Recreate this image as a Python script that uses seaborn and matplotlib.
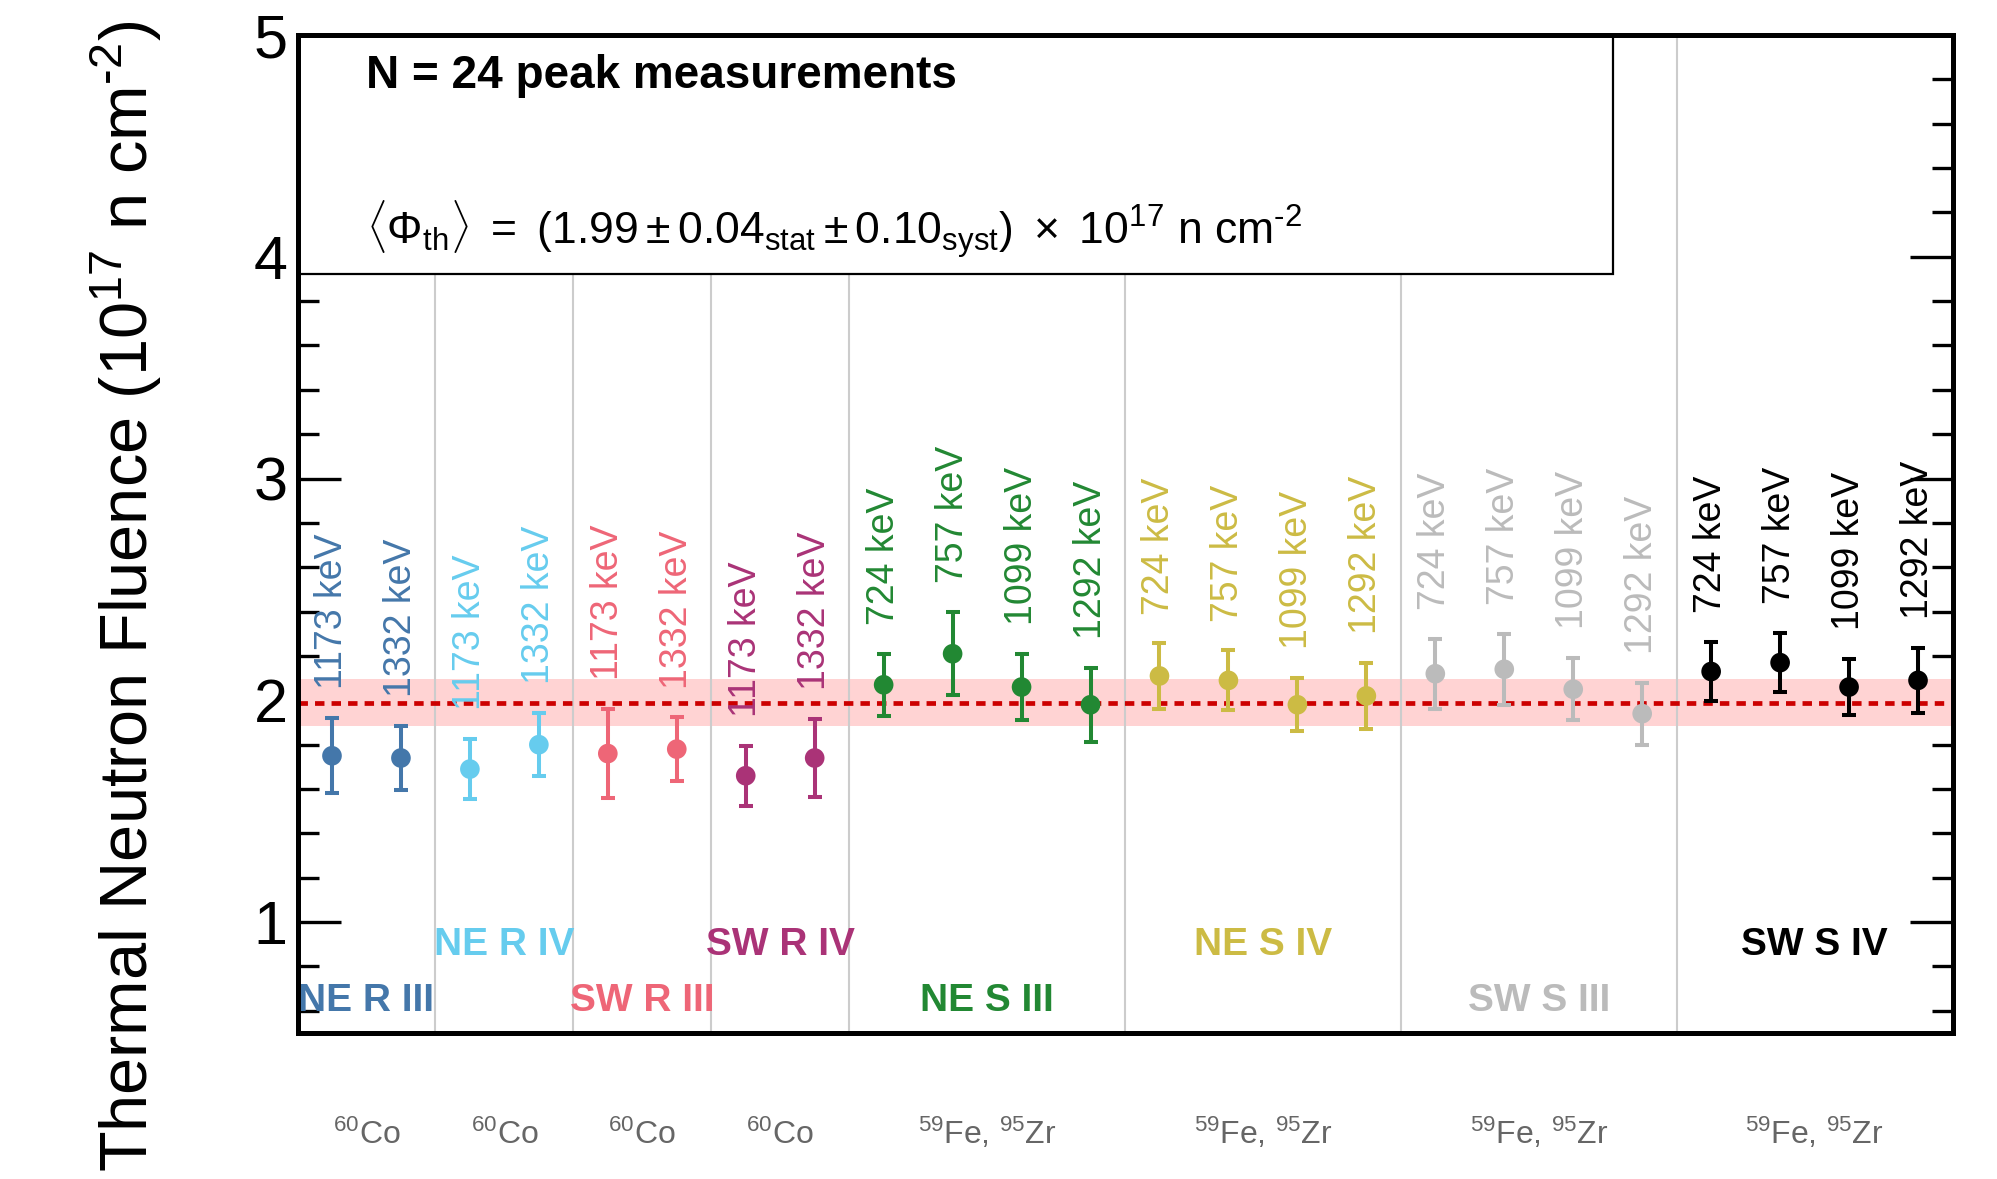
import numpy as np
import pandas as pd
import matplotlib
matplotlib.use("Agg")
import matplotlib.pyplot as plt
from matplotlib.patches import Rectangle
from matplotlib.ticker import MultipleLocator
import seaborn as sns

# ---- data -------------------------------------------------------------
groups = ["NE R III", "NE R IV", "SW R III", "SW R IV",
          "NE S III", "NE S IV", "SW S III", "SW S IV"]
group_colors = ["#4477AA", "#66CCEE", "#EE6677", "#AA3377",
                "#228833", "#CCBB44", "#BBBBBB", "#000000"]
group_isotopes = [r"$^{60}$Co"] * 4 + [r"$^{59}$Fe, $^{95}$Zr"] * 4

co_peaks = ["1173 keV", "1332 keV"]
fe_zr_peaks = ["724 keV", "757 keV", "1099 keV", "1292 keV"]

# fluence (1e17 n/cm2) and uncertainty per gamma peak
ne_r_iii = [1.75, 1.74]
ne_r_iii_err = [0.17, 0.145]
ne_r_iv = [1.69, 1.80]
ne_r_iv_err = [0.137, 0.143]
sw_r_iii = [1.76, 1.78]
sw_r_iii_err = [0.20, 0.143]
sw_r_iv = [1.66, 1.74]
sw_r_iv_err = [0.135, 0.178]
ne_s_iii = [2.07, 2.21, 2.06, 1.98]
ne_s_iii_err = [0.14, 0.187, 0.148, 0.168]
ne_s_iv = [2.11, 2.09, 1.98, 2.02]
ne_s_iv_err = [0.147, 0.135, 0.12, 0.15]
sw_s_iii = [2.12, 2.14, 2.05, 1.94]
sw_s_iii_err = [0.157, 0.16, 0.14, 0.14]
sw_s_iv = [2.13, 2.17, 2.06, 2.09]
sw_s_iv_err = [0.135, 0.133, 0.125, 0.147]

mean_fluence = 1.99
stat_err = 0.04
syst_err = 0.10

group_values = [ne_r_iii, ne_r_iv, sw_r_iii, sw_r_iv,
                ne_s_iii, ne_s_iv, sw_s_iii, sw_s_iv]
group_errors = [ne_r_iii_err, ne_r_iv_err, sw_r_iii_err, sw_r_iv_err,
                ne_s_iii_err, ne_s_iv_err, sw_s_iii_err, sw_s_iv_err]
group_peaks = [co_peaks] * 4 + [fe_zr_peaks] * 4

rows = []
for g, vals, errs, peaks in zip(groups, group_values, group_errors, group_peaks):
    for v, e, p in zip(vals, errs, peaks):
        rows.append({"group": g, "peak": p, "fluence": v, "err": e})
df = pd.DataFrame(rows)
df["pos"] = np.arange(len(df)) + 0.5

# ---- style ------------------------------------------------------------
sns.set_theme(style="white")
plt.rcParams["font.family"] = ["Liberation Sans", "DejaVu Sans"]
plt.rcParams["text.color"] = "black"
plt.rcParams["axes.labelcolor"] = "black"
plt.rcParams["mathtext.fontset"] = "custom"
plt.rcParams["mathtext.rm"] = "Liberation Sans"
plt.rcParams["mathtext.it"] = "Liberation Sans:italic"
plt.rcParams["mathtext.bf"] = "Liberation Sans:bold"
plt.rcParams["mathtext.sf"] = "Liberation Sans"

W, H = 1997, 1179
fig = plt.figure(figsize=(W / 100, H / 100), dpi=100)
ax = fig.add_axes([297.5 / W, 1 - 1033 / H, (1952.5 - 297.5) / W, (1033 - 35) / H])

palette = dict(zip(groups, group_colors))
tot_err = np.hypot(stat_err, syst_err)

# combined-uncertainty band and weighted mean
ax.axhspan(mean_fluence - tot_err, mean_fluence + tot_err,
           color="#ffd3d3", lw=0, zorder=1)

# separators between sample groups
counts = [len(v) for v in group_values]
edges = np.cumsum(counts)[:-1]
ax.vlines(edges, 0.5, 5, colors="#cccccc", lw=1.5, zorder=2)

# info box
ax.add_patch(Rectangle((0, 3.922), 19.07, 5 - 3.922, facecolor="white",
                       edgecolor="black", lw=1.6, zorder=3))

ax.axhline(mean_fluence, color="#cc0000", lw=3.4, dashes=(2, 1.5), zorder=4)

for _, r in df.iterrows():
    c = palette[r["group"]]
    ax.errorbar(r["pos"], r["fluence"], yerr=r["err"], fmt="none",
                ecolor=c, elinewidth=2.9, capsize=5, capthick=2.9, zorder=5)
    ax.text(r["pos"], r["fluence"] + r["err"] + 0.13, r["peak"],
            rotation=90, ha="center", va="bottom", fontsize=27,
            color=c, zorder=7)

sns.scatterplot(data=df, x="pos", y="fluence", hue="group", palette=palette,
                s=200, linewidth=0, legend=False, ax=ax, zorder=6)

# group names and isotopes
starts = np.concatenate([[0], np.cumsum(counts)[:-1]])
for i, (g, c, iso, s0, n) in enumerate(zip(groups, group_colors, group_isotopes,
                                           starts, counts)):
    xc = s0 + n / 2
    ax.text(xc, 0.85 if i % 2 else 0.60, g, ha="center", va="baseline",
            fontsize=28, fontweight="bold", color=c, zorder=7)
    ax.text(xc, 0.0, iso, ha="center", va="baseline", fontsize=23,
            color="#666666", clip_on=False)

ax.text(1.0, 4.761, f"N = {len(df)} peak measurements", fontsize=33,
        fontweight="bold", va="baseline", color="black", zorder=8)
formula = (r"$\langle\Phi_{\mathrm{th}}\rangle\ =\ (%.2f \pm %.2f_{\mathrm{stat}}"
           r" \pm %.2f_{\mathrm{syst}})\ \times\ 10^{17}$ n cm$^{\text{-2}}$"
           % (mean_fluence, stat_err, syst_err))
ax.text(1.0, 4.053, formula, fontsize=32, va="baseline", color="black", zorder=8)

ax.set_xlim(0, 24)
ax.set_ylim(0.5, 5)
ax.set_xticks([])
ax.set_yticks([1, 2, 3, 4, 5])
ax.yaxis.set_minor_locator(MultipleLocator(0.2))
ax.set_xlabel("")
ax.set_ylabel("")
ax.tick_params(axis="y", which="both", direction="in", left=True, right=True,
               labelsize=44, pad=7, color="black", labelcolor="black")
ax.tick_params(axis="y", which="major", length=31, width=2.4)
ax.tick_params(axis="y", which="minor", length=15, width=2.4)
for sp in ax.spines.values():
    sp.set_visible(True)
    sp.set_color("black")
    sp.set_linewidth(3.6)
    sp.set_zorder(10)

fig.text(0.063, 0.494, r"Thermal Neutron Fluence (10$^{17}$ n cm$^{\text{-2}}$)",
         rotation=90, ha="center", va="center", fontsize=48, color="black")

fig.savefig("out.png", dpi=100, facecolor="white")
